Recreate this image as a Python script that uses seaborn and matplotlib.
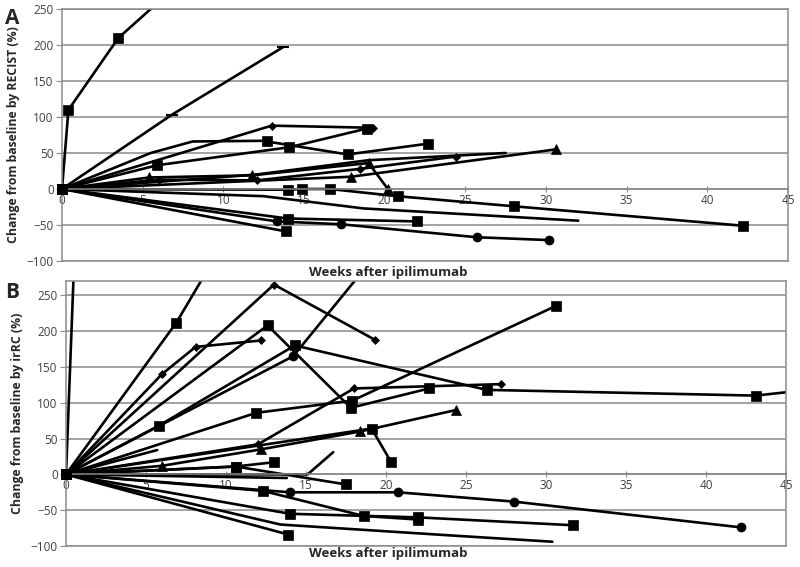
import matplotlib
matplotlib.use('Agg')
import matplotlib.pyplot as plt
import seaborn as sns

# === Data: panel A (RECIST) ===
a_weeks = [
    [0, 0.4, 3.5, 7.5],
    [0, 6.8, 13.7],
    [0, 13, 19.3],
    [0, 5.9, 14.1, 18.9],
    [0, 5.5, 8.1, 12.7],
    [12.7, 17.7, 22.7],
    [0, 6, 12.1, 18.5, 24.4],
    [0, 5.4, 11.8, 19, 20.2],
    [0, 17.9, 30.6],
    [0, 12, 19, 27.5],
    [0, 14, 14.9, 16.6, 20.8, 28, 42.2],
    [0, 12.5, 18.7, 32],
    [0, 14, 22],
    [0, 13.3, 17.3, 25.7, 30.2],
    [0, 13.9],
]
a_change = [
    [0, 110, 210, 290],
    [0, 103, 197],
    [0, 88, 85],
    [0, 33, 58, 84],
    [0, 50, 66, 67],
    [66, 48, 63],
    [0, 13, 12, 28, 45],
    [0, 16, 19, 36, 0],
    [0, 17, 55],
    [0, 20, 40, 50],
    [0, -1, 0, 0, -10, -24, -51],
    [0, -10, -27, -44],
    [0, -41, -45],
    [0, -45, -49, -67, -71],
    [0, -59],
]
a_markers = ['s', '_', 'D', 's', None, 's', 'D', '^', '^', None, 's', None, 's', 'o', 's']

# === Data: panel B (irRC) ===
b_weeks = [
    [0, 0.6],
    [0, 6.9, 9.5],
    [0, 6, 8.1, 12.2],
    [0, 13, 19.3],
    [0, 12.6, 17.8, 22.7],
    [0, 5.8, 14.3, 26.3, 43.1, 48],
    [0, 14.2, 19.5],
    [0, 12, 18, 27.2],
    [0, 11.9, 17.9, 30.6],
    [0, 6, 12.2, 18.4, 24.4],
    [0, 19.1, 20.3],
    [0, 5.7],
    [0, 15.1, 16.7],
    [0, 10.6, 13],
    [0, 10.6, 17.5],
    [0, 13.8],
    [0, 14, 20.75, 28, 42.2],
    [0, 12.3, 18.6, 22],
    [0, 14, 22, 31.7],
    [0, 13.9],
    [0, 13.4, 24.6, 30.4],
]
b_change = [
    [0, 350],
    [0, 212, 310],
    [0, 140, 178, 187],
    [0, 265, 188],
    [0, 208, 93, 120],
    [0, 68, 180, 118, 110, 122],
    [0, 165, 310],
    [0, 42, 120, 126],
    [0, 86, 103, 235],
    [0, 12, 35, 60, 90],
    [0, 64, 18],
    [0, 34],
    [0, 0, 31],
    [0, 11, 17],
    [0, 11, -14],
    [0, -5],
    [0, -25, -25, -38, -74],
    [0, -23, -58, -63],
    [0, -55, -60, -71],
    [0, -84],
    [0, -70, -86, -94],
]
b_markers = [None, 's', 'D', 'D', 's', 's', 'o', 'D', 's', '^', 's', None, None,
             's', 's', None, 'o', 's', 's', 's', None]

x_ticks = [0, 5, 10, 15, 20, 25, 30, 35, 40, 45]
y_ticks = [-100, -50, 0, 50, 100, 150, 200, 250]

marker_size = {'s': 7, 'D': 4.5, '^': 7, 'o': 6.5, '_': 8}

sns.set_style('white')
plt.rcParams['font.family'] = ['Open Sans', 'DejaVu Sans']

fig = plt.figure(figsize=(8, 5.67), dpi=100)
grid_col = '#8a8a8a'
tick_col = '#404040'


def draw_panel(ax, weeks, change, markers, y_top, ylabel):
    for w, c, m in zip(weeks, change, markers):
        kw = {}
        if m is not None:
            kw = dict(marker=m, markersize=marker_size[m], markeredgecolor='black',
                      markerfacecolor='black', markeredgewidth=1.5 if m == '_' else 0.5)
        sns.lineplot(x=w, y=c, ax=ax, color='black', linewidth=1.9, sort=False,
                     estimator=None, **kw)
    # baseline point shared by every patient, drawn unclipped on the y axis
    starts = [(w[0], c[0]) for w, c in zip(weeks, change) if w[0] == 0]
    sns.scatterplot(x=[s[0] for s in starts], y=[s[1] for s in starts], ax=ax,
                    marker='s', s=60, color='black', edgecolor='black',
                    clip_on=False, zorder=5, legend=False)
    ax.set_xlim(0, 45)
    ax.set_ylim(-100, y_top)
    ax.set_yticks(y_ticks)
    ax.set_xticks(x_ticks)
    ax.yaxis.grid(True, color=grid_col, linewidth=1.1)
    ax.xaxis.grid(False)
    ax.set_axisbelow(True)
    for side in ['left', 'right', 'top']:
        ax.spines[side].set_color(grid_col)
        ax.spines[side].set_linewidth(1.1)
    ax.spines['bottom'].set_position(('data', 0))
    ax.spines['bottom'].set_color(grid_col)
    ax.spines['bottom'].set_linewidth(1.1)
    ax.axhline(-100, color=grid_col, linewidth=1.1, clip_on=False, zorder=0)
    ax.tick_params(axis='x', direction='inout', length=5, color=grid_col,
                   labelsize=8.5, labelcolor=tick_col, pad=1, bottom=True)
    ax.tick_params(axis='y', direction='out', length=4, color=grid_col,
                   labelsize=8.5, labelcolor=tick_col, pad=2, left=True)
    ax.set_xlabel('')
    ax.set_ylabel(ylabel, fontsize=8.8, fontweight='bold', labelpad=5)


ax_a = fig.add_axes([0.0775, 0.5397, 0.9075, 0.4444])
draw_panel(ax_a, a_weeks, a_change, a_markers, 250, 'Change from baseline by RECIST (%)')

ax_b = fig.add_axes([0.0825, 0.037, 0.9, 0.4674])
draw_panel(ax_b, b_weeks, b_change, b_markers, 270, 'Change from baseline by irRC (%)')

fig.text(388 / 800, 1 - 273 / 567, 'Weeks after ipilimumab', ha='center', va='center',
         fontsize=9.5, fontweight='bold')
fig.text(388 / 800, 1 - 553 / 567, 'Weeks after ipilimumab', ha='center', va='center',
         fontsize=9.5, fontweight='bold')
fig.text(5 / 800, 1 - 18 / 567, 'A', fontsize=15, fontweight='bold', va='center')
fig.text(5 / 800, 1 - 293 / 567, 'B', fontsize=15, fontweight='bold', va='center')

fig.savefig('out.png', dpi=100)
